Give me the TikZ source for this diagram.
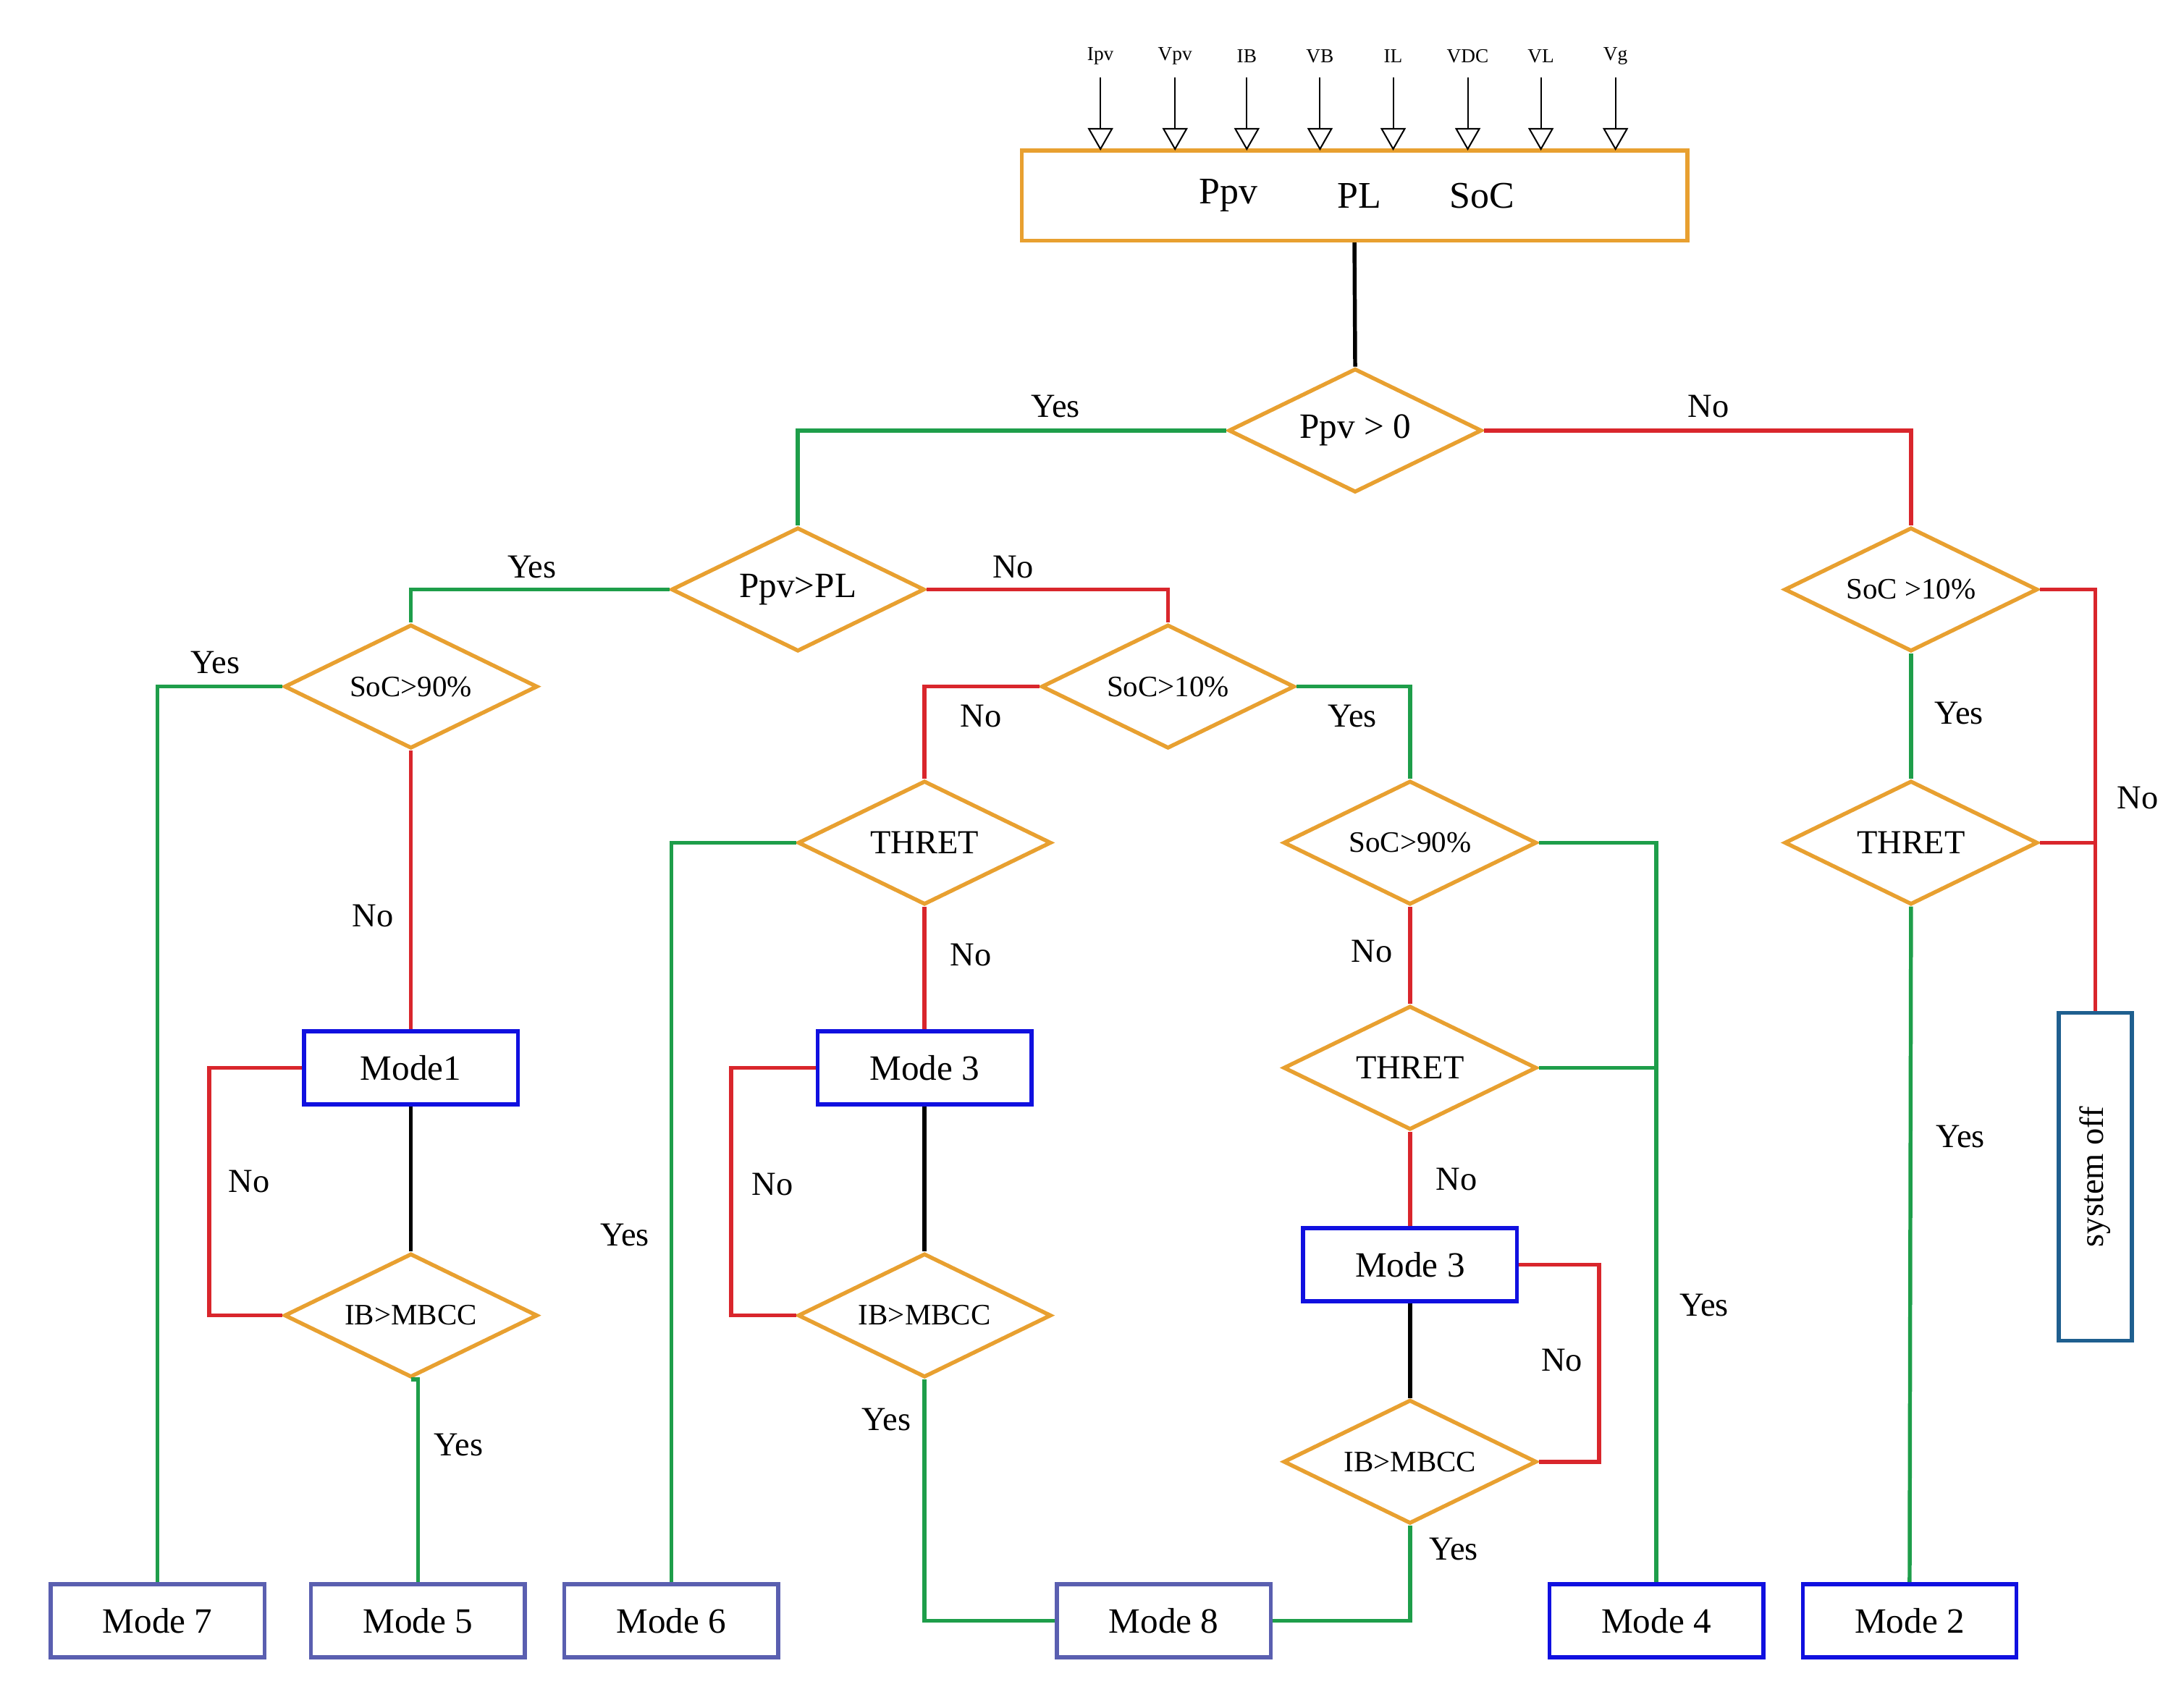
\documentclass[tikz,border=0pt]{standalone}
\usepackage{fontspec}
\setmainfont{Liberation Serif}
\usetikzlibrary{shapes.geometric,arrows.meta}
\definecolor{orng}{HTML}{E8A030}
\definecolor{grn}{HTML}{1E9E4A}
\definecolor{rd}{HTML}{D9262C}
\definecolor{blu}{HTML}{1010E0}
\definecolor{slt}{HTML}{5A5FB0}
\definecolor{teal}{HTML}{1F5F8F}
\begin{document}
\begin{tikzpicture}[x=0.05cm,y=-0.05cm,
 dia/.style={diamond,draw=orng,line width=4pt,inner sep=0pt,minimum width=9cm,minimum height=4.4cm,aspect=2.05,font=\fontsize{30}{32}\selectfont},
 bx/.style={rectangle,draw=blu,line width=4pt,minimum width=7.6cm,minimum height=2.6cm,inner sep=0pt,font=\fontsize{36}{38}\selectfont},
 bs/.style={bx,draw=slt},
 g/.style={draw=grn,line width=4pt},
 r/.style={draw=rd,line width=4pt},
 k/.style={draw=black,line width=4pt},
 lb/.style={font=\fontsize{34}{36}\selectfont},
 inp/.style={font=\fontsize{20}{22}\selectfont},
 ar/.style={line width=1.5pt,-{Triangle[open,length=0.8cm,width=0.9cm]}}]
\useasboundingbox (0,0) rectangle (1552,1208);
% top box
\node[draw=orng,line width=4pt,minimum width=23.65cm,minimum height=3.2cm,inner sep=0pt] (top) at (962.5,139) {};
\node[font=\fontsize{38}{40}\selectfont] (t1) at (873,139) {Ppv};
\node[font=\fontsize{38}{40}\selectfont] (t2) at (966,139) {PL};
\node[font=\fontsize{38}{40}\selectfont] (t3) at (1053,139) {SoC};
\foreach \x/\t/\n in {782/Ipv/a,835/Vpv/b,886/IB/c,938/VB/d,990/IL/e,1043/VDC/f,1095/VL/g,1148/Vg/h}{
 \node[inp] (i\n) at (\x,40) {\t};
 \coordinate (s\n) at (\x,55);
 \coordinate (e\n) at (\x,107);
 \draw[ar] (s\n) -- (e\n);
}
% diamonds
\node[dia,font=\fontsize{36}{38}\selectfont] (d1) at (963,306) {Ppv > 0};
\node[dia,font=\fontsize{36}{38}\selectfont] (d2) at (567,419) {Ppv>PL};
\node[dia] (d3) at (1358,419) {SoC >10\%};
\node[dia] (d4) at (292,488) {SoC>90\%};
\node[dia] (d5) at (830,488) {SoC>10\%};
\node[dia,font=\fontsize{34}{36}\selectfont] (d7) at (657,599) {THRET};
\node[dia] (d8) at (1002,599) {SoC>90\%};
\node[dia,font=\fontsize{34}{36}\selectfont] (d12) at (1358,599) {THRET};
\node[dia,font=\fontsize{34}{36}\selectfont] (d10) at (1002,759) {THRET};
\node[dia] (d6) at (292,935) {IB>MBCC};
\node[dia] (d9) at (657,935) {IB>MBCC};
\node[dia] (d11) at (1002,1039) {IB>MBCC};
% boxes
\node[bx] (m1) at (292,759) {Mode1};
\node[bx] (m3a) at (657,759) {Mode 3};
\node[bx] (m3b) at (1002,899) {Mode 3};
\node[bs] (m7) at (112,1152) {Mode 7};
\node[bs] (m5) at (297,1152) {Mode 5};
\node[bs] (m6) at (477,1152) {Mode 6};
\node[bs] (m8) at (827,1152) {Mode 8};
\node[bx] (m4) at (1177,1152) {Mode 4};
\node[bx] (m2) at (1357,1152) {Mode 2};
\node[draw=teal,line width=4pt,minimum width=2.6cm,minimum height=11.65cm,inner sep=0pt] (so) at (1489,836.5) {};
\node[rotate=90,font=\fontsize{34}{36}\selectfont] (sot) at (1489,836.5) {system off};
% connectors
\draw[k] (top.south) -- (d1.north);
\draw[g] (d1.west) -| (d2.north);
\draw[r] (d1.east) -| (d3.north);
\draw[g] (d2.west) -| (d4.north);
\draw[r] (d2.east) -| (d5.north);
\draw[g] (d4.west) -| (m7.north);
\draw[r] (d4.south) -- (m1.north);
\draw[k] (m1.south) -- (d6.north);
\draw[r] (d6.west) -- ++(-52,0) |- (m1.west);
\draw[g] (d6.south) -- (d6.south -| m5.north) -- (m5.north);
\draw[r] (d5.west) -| (d7.north);
\draw[g] (d5.east) -| (d8.north);
\draw[g] (d7.west) -| (m6.north);
\draw[r] (d7.south) -- (m3a.north);
\draw[k] (m3a.south) -- (d9.north);
\draw[r] (d9.west) -- ++(-46,0) |- (m3a.west);
\draw[g] (d9.south) |- (m8.west);
\draw[g] (d8.east) -| (m4.north);
\draw[r] (d8.south) -- (d10.north);
\draw[g] (d10.east) -- (d10.east -| m4.north);
\draw[r] (d10.south) -- (m3b.north);
\draw[k] (m3b.south) -- (d11.north);
\draw[r] (d11.east) -- ++(43,0) |- (m3b.east);
\draw[g] (d11.south) |- (m8.east);
\draw[r] (d3.east) -| (so.north);
\draw[g] (d3.south) -- (d12.north);
\draw[r] (d12.east) -- (d12.east -| so.north);
\draw[g] (d12.south) -- (m2.north);
% labels
\node[lb] (l1) at (750,289) {Yes};
\node[lb] (l2) at (1214,289) {No};
\node[lb] (l3) at (378,403) {Yes};
\node[lb] (l4) at (720,403) {No};
\node[lb] (l5) at (153,471) {Yes};
\node[lb] (l6) at (265,651) {No};
\node[lb] (l7) at (177,840) {No};
\node[lb] (l8) at (326,1027) {Yes};
\node[lb] (l9) at (697,509) {No};
\node[lb] (l10) at (961,509) {Yes};
\node[lb] (l11) at (444,878) {Yes};
\node[lb] (l12) at (690,679) {No};
\node[lb] (l13) at (549,842) {No};
\node[lb] (l14) at (630,1009) {Yes};
\node[lb] (l15) at (975,676) {No};
\node[lb] (l16) at (1035,838) {No};
\node[lb] (l17) at (1110,967) {No};
\node[lb] (l18) at (1033,1101) {Yes};
\node[lb] (l19) at (1211,928) {Yes};
\node[lb] (l20) at (1392,507) {Yes};
\node[lb] (l21) at (1519,567) {No};
\node[lb] (l22) at (1393,808) {Yes};
\end{tikzpicture}
\end{document}
